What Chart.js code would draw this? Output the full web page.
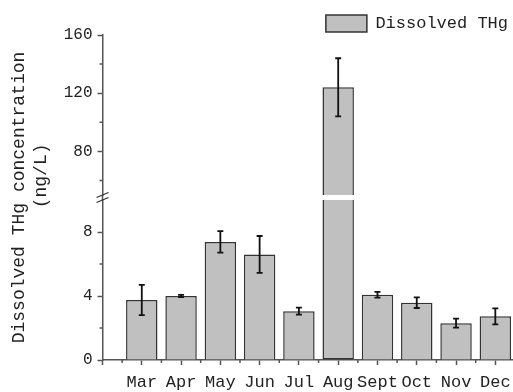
<!DOCTYPE html>
<html>
<head>
<meta charset="utf-8">
<title>Dissolved THg</title>
<script src="https://cdn.jsdelivr.net/npm/chart.js@4.4.1/dist/chart.umd.min.js"></script>
<style>
  html, body { margin: 0; padding: 0; background: #fff; }
  #grafico { display: block; }
</style>
</head>
<body>
<canvas id="grafico" width="513" height="392"></canvas>
<script>
// data
const months = ['Mar', 'Apr', 'May', 'Jun', 'Jul', 'Aug', 'Sept', 'Oct', 'Nov', 'Dec'];
const values = [3.75, 4.0, 7.38, 6.6, 3.05, 124, 4.08, 3.58, 2.3, 2.73];
const errors = [0.95, 0.07, 0.67, 1.15, 0.22, 20, 0.18, 0.33, 0.28, 0.5];

// broken y axis: lower and upper part
const lowerRange = [0, 10];
const upperRange = [50, 160];
const lowerTicks = [0, 4, 8];
const lowerMinorTicks = [2, 6];
const upperTicks = [80, 120, 160];
const upperMinorTicks = [60, 100, 140];

const FONT = 'Liberation Mono, DejaVu Sans Mono, monospace';
const AXIS_COLOR = '#555';
const TEXT_COLOR = '#222';

const positions = months.map((m, i) => i + 1);

const lowerData = positions.map((x, i) => ({ x: x, y: Math.min(values[i], lowerRange[1]) }));
const upperData = positions.map((x, i) => ({ x: x, y: values[i] > lowerRange[1] ? values[i] : null }));

function isBroken(i) {
    return values[i] > lowerRange[1];
}

// error bars, drawn on whichever part of the axis holds the bar
const errorBarsPlugin = {
    id: 'errorBars',
    afterDatasetsDraw(chart) {
        const ctx = chart.ctx;
        const xs = chart.scales.x;
        ctx.save();
        ctx.strokeStyle = '#111';
        ctx.lineWidth = 1.8;
        for (let i = 0; i < values.length; i++) {
            const ys = isBroken(i) ? chart.scales.yUp : chart.scales.yLow;
            const px = xs.getPixelForValue(positions[i]);
            const top = ys.getPixelForValue(values[i] + errors[i]);
            const bot = ys.getPixelForValue(values[i] - errors[i]);
            ctx.beginPath();
            ctx.moveTo(px, top); ctx.lineTo(px, bot);
            ctx.moveTo(px - 3, top); ctx.lineTo(px + 3, top);
            ctx.moveTo(px - 3, bot); ctx.lineTo(px + 3, bot);
            ctx.stroke();
        }
        ctx.restore();
    }
};

// minor ticks and the break marks on the y axis
const axisExtrasPlugin = {
    id: 'axisExtras',
    afterDraw(chart) {
        const ctx = chart.ctx;
        const xs = chart.scales.x;
        const up = chart.scales.yUp;
        const low = chart.scales.yLow;
        const left = chart.chartArea.left;
        const bottom = chart.chartArea.bottom;
        ctx.save();
        ctx.strokeStyle = AXIS_COLOR;
        ctx.lineWidth = 1.5;
        ctx.beginPath();
        upperMinorTicks.forEach(v => {
            const py = up.getPixelForValue(v);
            ctx.moveTo(left - 3, py); ctx.lineTo(left, py);
        });
        lowerMinorTicks.forEach(v => {
            const py = low.getPixelForValue(v);
            ctx.moveTo(left - 3, py); ctx.lineTo(left, py);
        });
        positions.forEach(p => {
            const px = xs.getPixelForValue(p - 0.5);
            ctx.moveTo(px, bottom); ctx.lineTo(px, bottom + 3);
        });
        // axis line through the gap
        ctx.moveTo(left, up.bottom); ctx.lineTo(left, low.top);
        ctx.stroke();

        ctx.lineWidth = 1.3;
        ctx.strokeStyle = '#333';
        ctx.beginPath();
        ctx.moveTo(left - 6, up.bottom + 2.5); ctx.lineTo(left + 6, up.bottom - 2.5);
        ctx.moveTo(left - 6, low.top + 2.5); ctx.lineTo(left + 6, low.top - 2.5);
        ctx.stroke();
        ctx.restore();
    }
};

function yAxis(weight, range, ticks) {
    return {
        type: 'linear',
        position: 'left',
        stack: 'y',
        stackWeight: weight,
        min: range[0],
        max: range[1],
        afterBuildTicks: s => { s.ticks = ticks.map(v => ({ value: v })); },
        afterFit: s => { s.width = 50.5; },
        ticks: {
            padding: 5,
            color: TEXT_COLOR,
            font: { family: FONT, size: 16 }
        },
        grid: { drawOnChartArea: false, tickLength: 5, tickColor: AXIS_COLOR, tickWidth: 1.5 },
        border: { color: AXIS_COLOR, width: 1.5 }
    };
}

const barStyle = {
    backgroundColor: '#c0c0c0',
    borderColor: '#333',
    borderWidth: 1.5,
    barPercentage: 0.8,
    categoryPercentage: 1,
    grouped: false
};

const config = {
    type: 'bar',
    data: {
        datasets: [
            Object.assign({
                label: 'Dissolved THg',
                data: lowerData,
                yAxisID: 'yLow',
                borderSkipped: c => isBroken(c.dataIndex) ? 'end' : 'start'
            }, barStyle),
            Object.assign({
                label: 'upper',
                data: upperData,
                yAxisID: 'yUp',
                base: upperRange[0]
            }, barStyle)
        ]
    },
    options: {
        responsive: false,
        animation: false,
        devicePixelRatio: 1,
        layout: { padding: { top: 10, left: 0, right: 0, bottom: 0 } },
        scales: {
            x: {
                type: 'linear',
                min: 0,
                max: 10.45,
                offset: false,
                afterBuildTicks: s => { s.ticks = [0].concat(positions).map(v => ({ value: v })); },
                afterFit: s => { s.height = 32; s.paddingRight = 0; },
                ticks: {
                    autoSkip: false,
                    maxRotation: 0,
                    minRotation: 0,
                    padding: 7,
                    color: TEXT_COLOR,
                    font: { family: FONT, size: 17 },
                    callback: v => months[v - 1] || ''
                },
                grid: { offset: false, drawOnChartArea: false, tickLength: 5, tickColor: AXIS_COLOR, tickWidth: 1.5 },
                border: { color: AXIS_COLOR, width: 1.5 }
            },
            yLow: yAxis(160, lowerRange, lowerTicks),
            yGap: { type: 'linear', position: 'left', stack: 'y', stackWeight: 5, display: false },
            yUp: yAxis(160, upperRange, upperTicks)
        },
        plugins: {
            legend: {
                position: 'top',
                align: 'end',
                maxHeight: 25,
                labels: {
                    boxWidth: 41,
                    boxHeight: 17,
                    padding: 5,
                    color: TEXT_COLOR,
                    font: { family: FONT, size: 17 },
                    filter: item => item.datasetIndex === 0
                }
            },
            title: {
                display: true,
                position: 'left',
                fullSize: false,
                text: ['Dissolved THg concentration', '    (ng/L)'],
                color: TEXT_COLOR,
                font: { family: FONT, size: 18, weight: 'normal', lineHeight: '22px' },
                padding: { top: 8, bottom: 0 }
            },
            tooltip: { enabled: false }
        }
    },
    plugins: [errorBarsPlugin, axisExtrasPlugin]
};

const grafico = new Chart(document.getElementById('grafico'), config);
</script>
</body>
</html>
